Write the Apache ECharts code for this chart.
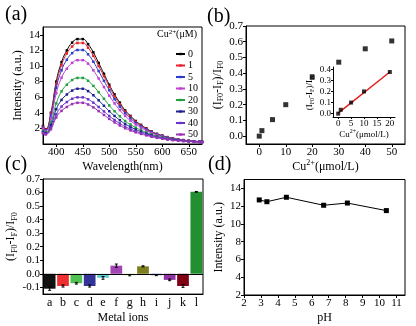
<!DOCTYPE html>
<html>
<head>
<meta charset="utf-8">
<script src="https://cdn.jsdelivr.net/npm/echarts@6/dist/echarts.min.js"></script>
<style>html,body{margin:0;padding:0;background:#fff}#c{width:416px;height:326px}</style>
</head>
<body>
<div id="c"></div>
<script>
// ---------- Panel (a): emission spectra ----------
const wavelengths = [375,380,390,400,410,420,430,440,450,460,470,480,490,500,510,520,530,540,550,560,570,580,590,600,610,620,630,640,650,660,670,675];
const cuLevels = ['0','1','5','10','20','30','40','50'];
const spec0  = [2.3,1.9,4.0,8.0,10.5,12.0,13.0,13.45,13.45,12.8,11.75,10.4,9.0,7.6,6.35,5.3,4.3,3.6,2.95,2.45,2.0,1.6,1.3,1.08,0.88,0.72,0.6,0.5,0.42,0.36,0.32,0.3];
const spec1  = [2.2,1.85,3.9,7.7,10.1,11.6,12.5,12.95,12.95,12.35,11.3,10.0,8.7,7.35,6.1,5.1,4.15,3.5,2.85,2.37,1.95,1.56,1.27,1.05,0.86,0.7,0.59,0.49,0.41,0.35,0.31,0.29];
const spec5  = [2.1,1.75,3.65,7.2,9.45,10.8,11.65,12.05,12.05,11.5,10.55,9.35,8.1,6.9,5.75,4.8,3.95,3.3,2.72,2.26,1.86,1.5,1.23,1.01,0.83,0.68,0.57,0.48,0.4,0.34,0.3,0.28];
const spec10 = [1.95,1.65,3.3,6.5,8.5,9.65,10.4,10.75,10.75,10.3,9.45,8.4,7.3,6.2,5.2,4.35,3.6,3.0,2.5,2.08,1.72,1.4,1.15,0.95,0.79,0.65,0.55,0.46,0.39,0.33,0.29,0.27];
const spec20 = [1.7,1.5,2.75,5.2,6.75,7.6,8.2,8.47,8.47,8.1,7.45,6.65,5.8,4.95,4.2,3.55,2.95,2.5,2.1,1.78,1.48,1.22,1.01,0.85,0.71,0.6,0.51,0.43,0.37,0.32,0.28,0.26];
const spec30 = [1.55,1.4,2.4,4.45,5.65,6.35,6.85,7.08,7.08,6.78,6.25,5.6,4.9,4.2,3.6,3.05,2.57,2.2,1.86,1.58,1.33,1.1,0.92,0.78,0.66,0.56,0.48,0.41,0.35,0.3,0.27,0.25];
const spec40 = [1.45,1.3,2.1,3.8,4.8,5.38,5.8,5.98,5.98,5.73,5.3,4.75,4.18,3.6,3.08,2.63,2.23,1.92,1.64,1.4,1.19,1.0,0.84,0.72,0.61,0.52,0.45,0.39,0.34,0.29,0.26,0.24];
const spec50 = [1.35,1.22,1.9,3.4,4.25,4.75,5.12,5.28,5.28,5.07,4.7,4.22,3.72,3.22,2.77,2.37,2.02,1.74,1.5,1.29,1.1,0.93,0.79,0.68,0.58,0.5,0.43,0.37,0.32,0.28,0.25,0.23];
const spectra = [spec0,spec1,spec5,spec10,spec20,spec30,spec40,spec50];
const specColors = ['#000000','#e8202a','#2a3cc8','#c040d0','#22a040','#202090','#6a34c8','#9a30b4'];

// ---------- Panel (b): quenching vs Cu2+ ----------
const cuConc = [0,1,5,10,20,30,40,50];
const quench = [0,0.035,0.105,0.2,0.375,0.47,0.555,0.605];
// inset
const insetConc = [0,1,5,10,20];
const insetQuench = [0,0.035,0.1,0.2,0.375];
const fitX = [0,20];
const fitY = [0.005,0.375];

// ---------- Panel (c): metal ions selectivity ----------
const ions = ['a','b','c','d','e','f','g','h','i','j','k','l'];
const ionValues = [-0.11,-0.09,-0.07,-0.09,-0.03,0.06,-0.01,0.055,-0.01,-0.045,-0.09,0.605];
const ionErrors = [0.012,0.008,0.006,0.008,0.01,0.012,0.005,0.004,0.004,0.006,0.01,0.003];
const ionColors = ['#111111','#f03030','#50c050','#33339a','#5fd0d0','#a444b4','#c8c848','#7e7e1e','#30308a','#9233a6','#800014','#229030'];

// ---------- Panel (d): pH ----------
const phValues = [2.9,3.35,4.5,6.7,8.1,10.4];
const phIntensity = [12.7,12.5,13.0,12.1,12.35,11.5];

const FONT = 'Liberation Serif, Times New Roman, serif';
const chart = echarts.init(document.getElementById('c'), null, {renderer:'canvas'});

const subName = '(I{s|F0}-I{s|F})/I{s|F0}';
function nameStyle(size, sub) {
  return {fontFamily:FONT, fontSize:size, color:'#000', lineHeight:size+3,
    rich:{s:{fontFamily:FONT, fontSize:sub, verticalAlign:'bottom', color:'#000'},
          sup:{fontFamily:FONT, fontSize:sub, verticalAlign:'top', color:'#000'}}};
}
function lab(size){ return {fontFamily:FONT, fontSize:size, color:'#000', margin:3}; }
const axLine = {show:true, onZero:false, lineStyle:{color:'#000', width:1}};
const axTick = {show:true, inside:false, length:3, lineStyle:{color:'#000'}};

const series = [];
spectra.forEach((arr, k) => {
  series.push({type:'line', name:cuLevels[k], xAxisIndex:0, yAxisIndex:0,
    data: wavelengths.map((w,i)=>[w, arr[i]]), smooth:true, symbol:'rect', symbolSize:2.5,
    lineStyle:{color:specColors[k], width:1}, itemStyle:{color:specColors[k]}, z:2+k});
});
series.push({type:'scatter', xAxisIndex:1, yAxisIndex:1, data: cuConc.map((c,i)=>[c, quench[i]]),
  symbol:'rect', symbolSize:5, itemStyle:{color:'#000'}});
series.push({type:'line', xAxisIndex:2, yAxisIndex:2, data: fitX.map((x,i)=>[x, fitY[i]]),
  symbol:'none', lineStyle:{color:'#e02020', width:1.5}, z:3});
series.push({type:'scatter', xAxisIndex:2, yAxisIndex:2, data: insetConc.map((c,i)=>[c, insetQuench[i]]),
  symbol:'rect', symbolSize:4, itemStyle:{color:'#000'}, z:4});
series.push({type:'bar', xAxisIndex:3, yAxisIndex:3, barCategoryGap:'12%',
  data: ionValues.map((v,i)=>({value:v, itemStyle:{color:ionColors[i]}})),
  markLine:{silent:true, symbol:'none', label:{show:false}, lineStyle:{color:'#000', type:'solid', width:1},
    data:[{yAxis:0}]}});
series.push({type:'custom', xAxisIndex:3, yAxisIndex:3, z:10,
  data: ionValues.map((v,i)=>[i, v, ionErrors[i]]),
  renderItem: function(params, api){
    const x = api.value(0), v = api.value(1), e = api.value(2);
    const t = api.coord([x, v+e]), b = api.coord([x, v-e]);
    const st = {stroke:'#000', lineWidth:1};
    return {type:'group', children:[
      {type:'line', shape:{x1:t[0], y1:t[1], x2:b[0], y2:b[1]}, style:st},
      {type:'line', shape:{x1:t[0]-1.5, y1:t[1], x2:t[0]+1.5, y2:t[1]}, style:st},
      {type:'line', shape:{x1:b[0]-1.5, y1:b[1], x2:b[0]+1.5, y2:b[1]}, style:st}
    ]};
  }});
series.push({type:'line', xAxisIndex:4, yAxisIndex:4, data: phValues.map((p,i)=>[p, phIntensity[i]]),
  symbol:'rect', symbolSize:5, lineStyle:{color:'#000', width:1}, itemStyle:{color:'#000'}});

const option = {
  animation:false,
  backgroundColor:'#fff',
  textStyle:{fontFamily:FONT},
  grid:[
    {left:43, top:27, width:159, height:117, show:true, borderColor:'#000', borderWidth:1},
    {left:246, top:26, width:159, height:118, show:true, borderColor:'#000', borderWidth:1},
    {left:333, top:67, width:62, height:50, show:false},
    {left:43, top:179, width:160, height:116, show:true, borderColor:'#000', borderWidth:1},
    {left:244, top:179.5, width:161, height:115.5, show:true, borderColor:'#000', borderWidth:1}
  ],
  xAxis:[
    {gridIndex:0, type:'value', min:375, max:675, splitNumber:6, name:'Wavelength(nm)', nameLocation:'middle', nameGap:14,
      nameTextStyle:nameStyle(12,8), axisLine:axLine, axisTick:axTick, splitLine:{show:false},
      axisLabel:Object.assign(lab(11), {showMinLabel:false, showMaxLabel:false})},
    {gridIndex:1, type:'value', min:-5, max:55, splitNumber:6, name:'{t|Cu}{sup|2+}{t|(μmol/L)}', nameLocation:'middle', nameGap:14,
      nameTextStyle:Object.assign(nameStyle(12,8), {rich:{t:{fontFamily:FONT,fontSize:12,color:'#000'}, sup:{fontFamily:FONT,fontSize:8,verticalAlign:'top',color:'#000'}}}),
      axisLine:axLine, axisTick:axTick, splitLine:{show:false},
      axisLabel:Object.assign(lab(11), {showMinLabel:false, showMaxLabel:false})},
    {gridIndex:2, type:'value', min:-2, max:22, splitNumber:5, name:'{t|Cu}{sup|2+}{t|(μmol/L)}', nameLocation:'middle', nameGap:10,
      nameTextStyle:Object.assign(nameStyle(9,6), {rich:{t:{fontFamily:FONT,fontSize:9,color:'#000'}, sup:{fontFamily:FONT,fontSize:6,verticalAlign:'top',color:'#000'}}}),
      axisLine:axLine, axisTick:Object.assign({}, axTick, {length:2}), splitLine:{show:false},
      axisLabel:Object.assign(lab(9), {margin:2, showMinLabel:false, showMaxLabel:false})},
    {gridIndex:3, type:'category', data:ions, name:'Metal ions', nameLocation:'middle', nameGap:13,
      nameTextStyle:nameStyle(12,8), axisLine:{show:true, onZero:false, lineStyle:{color:'#000'}},
      axisTick:{show:false}, axisLabel:Object.assign(lab(12), {margin:3, interval:0})},
    {gridIndex:4, type:'value', min:2, max:11.5, interval:1, name:'pH', nameLocation:'middle', nameGap:13,
      nameTextStyle:nameStyle(12,8), axisLine:axLine, axisTick:axTick, splitLine:{show:false},
      axisLabel:Object.assign(lab(11), {showMaxLabel:false})}
  ],
  yAxis:[
    {gridIndex:0, type:'value', min:0, max:15, interval:2, name:'Intensity (a.u.)', nameLocation:'middle', nameGap:15,
      nameTextStyle:nameStyle(12,8), axisLine:axLine, axisTick:axTick, splitLine:{show:false},
      axisLabel:Object.assign(lab(11), {showMinLabel:false, showMaxLabel:false})},
    {gridIndex:1, type:'value', min:-0.05, max:0.7, splitNumber:7, name:subName, nameLocation:'middle', nameGap:19,
      nameTextStyle:nameStyle(12,8), axisLine:axLine, axisTick:axTick, splitLine:{show:false},
      axisLabel:Object.assign(lab(11), {showMinLabel:false, formatter:v=>v.toFixed(1)})},
    {gridIndex:2, type:'value', min:-0.03, max:0.42, splitNumber:4, name:subName, nameLocation:'middle', nameGap:15,
      nameTextStyle:nameStyle(9,6), axisLine:axLine, axisTick:Object.assign({}, axTick, {length:2}), splitLine:{show:false},
      axisLabel:Object.assign(lab(9), {margin:2, showMinLabel:false, showMaxLabel:false, formatter:v=>v.toFixed(1)})},
    {gridIndex:3, type:'value', min:-0.15, max:0.7, splitNumber:8, name:subName, nameLocation:'middle', nameGap:21,
      nameTextStyle:nameStyle(12,8), axisLine:axLine, axisTick:axTick, splitLine:{show:false},
      axisLabel:Object.assign(lab(11), {showMinLabel:false, formatter:v=>v.toFixed(1)})},
    {gridIndex:4, type:'value', min:2, max:15, interval:2, name:'Intensity (a.u.)', nameLocation:'middle', nameGap:18,
      nameTextStyle:nameStyle(12,8), axisLine:axLine, axisTick:axTick, splitLine:{show:false},
      axisLabel:Object.assign(lab(11), {showMaxLabel:false})}
  ],
  legend:{orient:'vertical', left:170, top:44, itemWidth:9, itemHeight:3, itemGap:1.5,
    data:cuLevels, textStyle:{fontFamily:FONT, fontSize:10, color:'#000', padding:[0,0,0,-2]}},
  graphic:[
    {type:'text', left:5, top:5, style:{text:'(a)', font:'20px '+FONT, fill:'#000'}},
    {type:'text', left:207, top:7, style:{text:'(b)', font:'20px '+FONT, fill:'#000'}},
    {type:'text', left:5, top:155, style:{text:'(c)', font:'20px '+FONT, fill:'#000'}},
    {type:'text', left:208, top:155, style:{text:'(d)', font:'20px '+FONT, fill:'#000'}},
    {type:'text', left:157, top:29, style:{text:'Cu{sup|2+}(μM)', font:'10px '+FONT, fill:'#000',
      rich:{sup:{fontFamily:FONT, fontSize:7, verticalAlign:'top', fill:'#000'}}}}
  ],
  series:series
};
chart.setOption(option);
</script>
</body>
</html>
